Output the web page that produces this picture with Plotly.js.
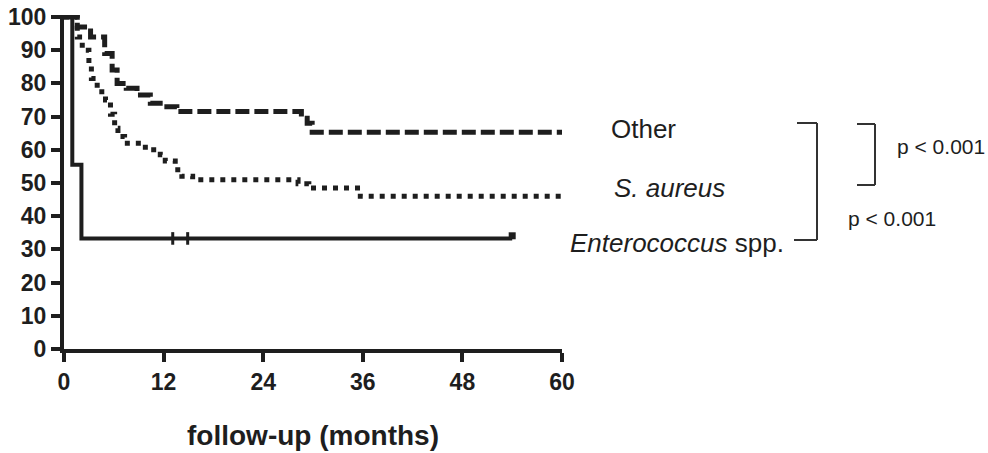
<!DOCTYPE html>
<html>
<head>
<meta charset="utf-8">
<script src="https://cdn.plot.ly/plotly-3.0.1.min.js"></script>
<style>
  html, body { margin: 0; padding: 0; background: #fff; }
  #chart { width: 988px; height: 453px; }
</style>
</head>
<body>
<div id="chart"></div>
<script>
// ---- Data ----
const otherMonths = [0, 1.6, 3.2, 4.9, 5.8, 6.4, 7.5, 8.8, 10.4, 12.0, 13.6, 28.6, 29.3, 29.9, 60];
const otherSurv   = [100, 97, 94, 89, 84, 80, 78.5, 76.5, 74, 73, 71.5, 69.5, 68, 65.3, 65.3];

const aureusMonths = [0, 1.6, 2.2, 3.0, 3.3, 4.0, 5.0, 5.6, 6.1, 6.5, 7.3, 9.8, 11.6, 12.2, 13.4, 14.2, 15.5, 28.2, 29.5, 35.7, 60];
const aureusSurv   = [100, 94, 90, 85.5, 81.5, 77.5, 75, 70.7, 66.5, 64, 62, 60, 58.5, 56.6, 54, 52, 51, 49.8, 48.5, 46, 45.8];

const enteroMonths = [0, 1.0, 2.1, 54];
const enteroSurv   = [100, 55.5, 33.3, 33.3];
const enteroCensorMonths = [13.1, 14.9];
const enteroCensorSurv   = [33.3, 33.3];

const xTicks = [0, 12, 24, 36, 48, 60];
const yTicks = [0, 10, 20, 30, 40, 50, 60, 70, 80, 90, 100];

const groupLabels = ["Other", "<i>S. aureus</i>", "<i>Enterococcus</i> spp."];
const pLabels = ["p < 0.001", "p < 0.001"];

// ---- Layout helpers (pixel -> paper) ----
const L = 64, R = 562, T = 15, B = 349;
const px = x => (x - L) / (R - L);
const py = y => (B - y) / (B - T);

const ink = "#1e1e1e";
const FAM = "Liberation Sans, Arial, sans-serif";

const traces = [
  { x: otherMonths, y: otherSurv, mode: "lines", line: { shape: "hv", color: ink, width: 5, dash: "14px,5px" }, hoverinfo: "skip" },
  { x: aureusMonths, y: aureusSurv, mode: "lines", line: { shape: "hv", color: ink, width: 5, dash: "5px,6px" }, hoverinfo: "skip" },
  { x: enteroMonths, y: enteroSurv, mode: "lines", line: { shape: "hv", color: ink, width: 4 }, hoverinfo: "skip" },
  { x: enteroCensorMonths, y: enteroCensorSurv, mode: "markers", marker: { symbol: "line-ns", size: 9, line: { color: ink, width: 3 } }, hoverinfo: "skip", cliponaxis: false },
  { x: [enteroMonths[enteroMonths.length - 1]], y: [enteroSurv[enteroSurv.length - 1] + 0.8], mode: "markers", marker: { symbol: "square", size: 7, color: ink }, hoverinfo: "skip", cliponaxis: false }
];

const tickFont = { family: FAM, size: 23, color: ink, weight: "bold" };

const bracket = (pts) => pts.slice(1).map((p, i) => ({
  type: "line", xref: "paper", yref: "paper",
  x0: px(pts[i][0]), y0: py(pts[i][1]), x1: px(p[0]), y1: py(p[1]),
  line: { color: "#333", width: 2 }
}));

const ann = (text, x, y, size) => ({
  text, xref: "paper", yref: "paper", x: px(x), y: py(y),
  xanchor: "center", yanchor: "middle", showarrow: false,
  font: { family: FAM, size, color: ink }
});

const layout = {
  width: 988, height: 453,
  margin: { l: L, r: 988 - R, t: T, b: 453 - B },
  paper_bgcolor: "#fff", plot_bgcolor: "#fff",
  showlegend: false,
  xaxis: {
    range: [0, 60], tickvals: xTicks, ticktext: xTicks.map(String),
    showgrid: false, zeroline: false, showline: true, linecolor: ink, linewidth: 4,
    ticks: "outside", ticklen: 9, tickwidth: 4, tickcolor: ink,
    tickfont: tickFont,
    title: { text: "<b>follow-up (months)</b>", font: { family: FAM, size: 28, color: ink }, standoff: 33 }
  },
  yaxis: {
    range: [0, 100.6], tickvals: yTicks, ticktext: yTicks.map(String),
    showgrid: false, zeroline: false, showline: true, linecolor: ink, linewidth: 4,
    ticks: "outside", ticklen: 9, tickwidth: 4, tickcolor: ink,
    tickfont: tickFont
  },
  annotations: [
    ann(groupLabels[0], 643, 129, 26),
    ann(groupLabels[1], 669, 188, 26),
    ann(groupLabels[2], 677, 243, 26),
    ann(pLabels[0], 941, 146, 21),
    ann(pLabels[1], 892, 219, 21)
  ],
  shapes: [
    ...bracket([[797, 123], [817, 123], [817, 240], [794, 240]]),
    ...bracket([[857, 124], [875, 124], [875, 185], [857, 185]])
  ]
};

Plotly.newPlot("chart", traces, layout, { staticPlot: true, displayModeBar: false });
</script>
</body>
</html>
